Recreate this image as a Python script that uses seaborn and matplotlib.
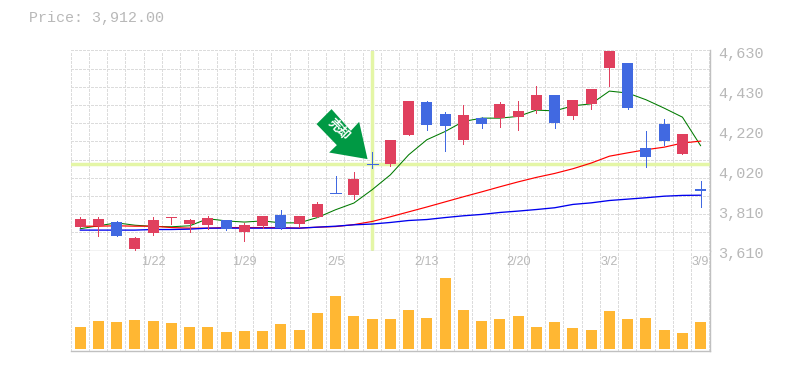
import matplotlib
matplotlib.use("Agg")
import matplotlib.pyplot as plt
from matplotlib.patches import Polygon
from matplotlib.transforms import Affine2D, IdentityTransform
import numpy as np
import pandas as pd
import seaborn as sns

sns.set_theme(style="white")
plt.rcParams['font.family'] = ['Liberation Mono', 'DejaVu Sans']
plt.rcParams['lines.antialiased'] = False

# candles
opens = [3731, 3736, 3756, 3619, 3700, 3778, 3746, 3741, 3767, 3705, 3736, 3792, 3746, 3782, 3903, 3894, 4052,
         4052, 4200, 4368, 4307, 4175, 4287, 4287, 4292, 4328, 4404, 4297, 4358, 4542, 4567, 4134, 4256, 4103, 3922]
closes = [3772, 3772, 3685, 3675, 3767, 3782, 3767, 3777, 3721, 3741, 3787, 3726, 3787, 3848, 3903, 3976, 4052,
          4175, 4373, 4251, 4246, 4302, 4256, 4358, 4322, 4404, 4261, 4379, 4435, 4628, 4338, 4088, 4170, 4205, 3912]
highs = [3782, 3782, 3761, 3680, 3782, 3782, 3772, 3787, 3767, 3751, 3787, 3818, 3787, 3858, 3991, 4011, 4113,
         4175, 4373, 4373, 4317, 4353, 4292, 4368, 4373, 4450, 4404, 4379, 4435, 4634, 4567, 4220, 4282, 4205, 3965]
lows = [3731, 3685, 3685, 3610, 3690, 3746, 3705, 3721, 3716, 3660, 3726, 3721, 3731, 3782, 3903, 3874, 4032,
        4042, 4200, 4226, 4118, 4154, 4236, 4241, 4226, 4312, 4236, 4282, 4333, 4450, 4333, 4037, 4149, 4103, 3833]

ma_short = [3721, 3736, 3751, 3739, 3733, 3731, 3736, 3772, 3761, 3755, 3761, 3751, 3751, 3778, 3818, 3852, 3920,
            3996, 4098, 4175, 4217, 4268, 4285, 4285, 4294, 4326, 4322, 4348, 4358, 4423, 4413, 4379, 4336, 4290, 4144]
ma_mid = [3734, 3734, 3736, 3734, 3734, 3727, 3724, 3724, 3727, 3727, 3727, 3727, 3724, 3729, 3732, 3742, 3758,
          3782, 3807, 3832, 3858, 3884, 3909, 3935, 3960, 3983, 4003, 4027, 4056, 4091, 4108, 4124, 4137, 4158, 4168]
ma_long = [3714, 3714, 3714, 3714, 3717, 3717, 3719, 3724, 3724, 3724, 3724, 3724, 3724, 3729, 3734, 3741, 3745,
           3753, 3763, 3768, 3778, 3787, 3794, 3804, 3811, 3819, 3828, 3845, 3853, 3865, 3872, 3879, 3887, 3891, 3892]

volume = [22, 28, 27, 29, 28, 26, 22, 22, 17, 18, 18, 25, 19, 36, 53, 33, 30, 30,
          39, 31, 71, 39, 28, 30, 33, 22, 27, 21, 19, 38, 30, 31, 19, 16, 27]

date_labels = {4: '1/22', 9: '1/29', 14: '2/5', 19: '2/13', 24: '2/20', 29: '3/2', 34: '3/9'}
price_ticks = [3610, 3814, 4018, 4222, 4426, 4630]
price_labels = ['3,610', '3,810', '4,020', '4,220', '4,430', '4,630']
last_price = 'Price: 3,912.00'
signal_index = 16
signal_price = 4052

UP = '#e0405e'
DOWN = '#4169e1'
GRID = '#dcdcdc'
AXIS = '#c0c0c0'
TEXT = '#b8b8b8'
LIME = '#e4f6a6'
DASH = (0, (2.8, 1.8))
THIN = 0.72  # one pixel at dpi 100

df = pd.DataFrame({'day': np.arange(len(opens)), 'open': opens, 'close': closes, 'high': highs, 'low': lows,
                   'short': ma_short, 'mid': ma_mid, 'long': ma_long, 'volume': volume})

fig = plt.figure(figsize=(7.85, 3.7), dpi=100)
W, H = 785, 370
ax = fig.add_axes([70.5 / W, 1 - 250.5 / H, 639.5 / W, 200 / H])
ax2 = fig.add_axes([70.5 / W, 1 - 350.5 / H, 639.5 / W, 100 / H], sharex=ax)

xlim = (-0.526, 34.51)
grid_x = np.arange(0, 36) - 0.526

for a in (ax, ax2):
    a.set_facecolor('white')
    for x in grid_x:
        a.axvline(x, color=GRID, lw=THIN, ls=DASH, zorder=0, clip_on=False)
    for s in ('left', 'top'):
        a.spines[s].set_visible(False)
    for s in ('right', 'bottom'):
        a.spines[s].set_color(AXIS)
        a.spines[s].set_linewidth(1)

for y in np.linspace(3610, 4630, 12)[1:]:
    ax.axhline(y, color=GRID, lw=THIN, ls=DASH, zorder=0, clip_on=False)

# crosshair on the signal candle
ax.axhline(signal_price, color=LIME, lw=2.5, antialiased=True, zorder=1)
ax.plot([signal_index, signal_index], [3618, 4630], color=LIME, lw=2.5, antialiased=True, zorder=1)

sns.lineplot(data=df, x='day', y='short', color='#007a00', lw=0.75, antialiased=True, ax=ax, zorder=2)
sns.lineplot(data=df, x='day', y='mid', color='#ff0000', lw=0.85, antialiased=True, ax=ax, zorder=2)
sns.lineplot(data=df, x='day', y='long', color='#0000ee', lw=0.95, antialiased=True, ax=ax, zorder=2)

colors = [UP if c > o else DOWN for o, c in zip(opens, closes)]
ax.vlines(df['day'], df['low'], df['high'], colors=colors, lw=THIN, antialiased=False, zorder=3)
flat = df['open'] == df['close']
ax.bar(df['day'][~flat], (df['close'] - df['open'])[~flat], bottom=df['open'][~flat], width=0.6,
       color=[c for c, f in zip(colors, flat) if not f], lw=0, zorder=4)
ax.hlines(df['open'][flat], df['day'][flat] - 0.3, df['day'][flat] + 0.3,
          colors=[c for c, f in zip(colors, flat) if f], lw=THIN, antialiased=False, zorder=4)

ax.set_xlim(*xlim)
ax.set_ylim(3610, 4630)
ax.set_xlabel('')
ax.set_ylabel('')
ax.yaxis.tick_right()
ax.set_yticks(price_ticks, price_labels)
ax.tick_params(axis='y', length=0, pad=6, labelsize=11, labelcolor=TEXT)
ax.tick_params(axis='x', length=0, labelbottom=False)
for t in ax.get_yticklabels():
    t.set_transform(t.get_transform() + Affine2D().translate(0, -2.5))

sns.barplot(data=df, x='day', y='volume', native_scale=True, width=0.6, color='#ffb733', saturation=1,
            ax=ax2, zorder=2, linewidth=0)
ax2.set_xlim(*xlim)
ax2.set_ylim(-2, 98)
ax2.set_xlabel('')
ax2.set_ylabel('')
ax2.set_yticks([])
ax2.set_xticks(list(date_labels), list(date_labels.values()))
ax2.tick_params(axis='x', length=0, labelbottom=False)
for d, lab in date_labels.items():
    ax2.annotate(lab, (d, 98), xytext=(0, -8.6), textcoords='offset points', ha='center', va='center',
                 fontsize=9, color=TEXT, family='Liberation Sans', zorder=5)

fig.text(29 / W, 1 - 18 / H, last_price, color=TEXT, fontsize=10.8, va='center', ha='left')

# signal arrow, drawn in pixels relative to the signal point
px, py = ax.transData.transform((signal_index, signal_price))
arrow = np.array([(-40.6, 54.7), (-55.6, 39.7), (-35.3, 18.7), (-43, 11.3), (-4.6, 4.7), (-13, 42), (-21.3, 33)])
ax.add_patch(Polygon(arrow + (px, py), closed=True, transform=IdentityTransform(), color='#009944', lw=0,
                     zorder=6, clip_on=False))
fig.text((px - 33) / W, (py + 34.5) / H, '売却', color='white', fontsize=9, fontweight='bold', rotation=-45,
         rotation_mode='anchor', ha='center', va='center', family=['Noto Sans CJK JP', 'DejaVu Sans'], zorder=7)

fig.savefig('out.png', dpi=100, facecolor='white')
